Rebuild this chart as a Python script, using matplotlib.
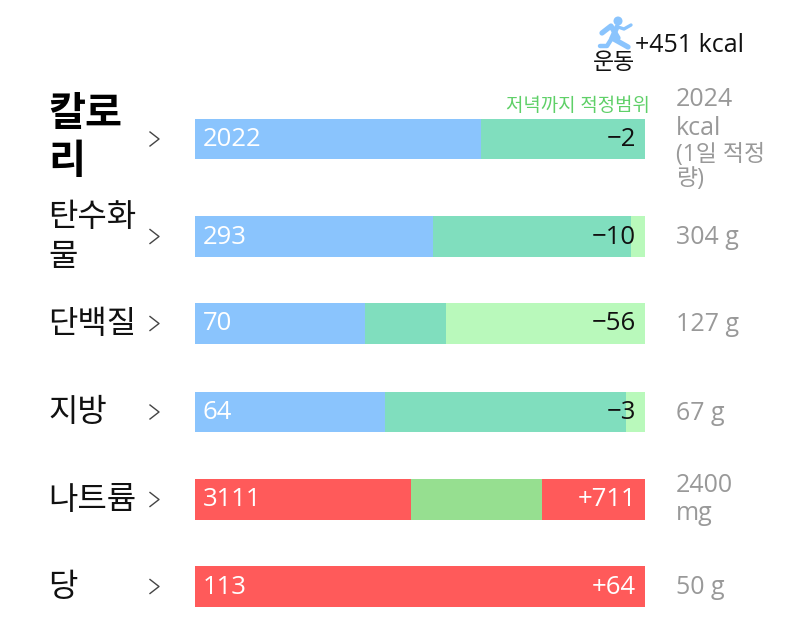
import matplotlib
matplotlib.use("Agg")
import matplotlib.pyplot as plt
from matplotlib.patches import Circle

plt.rcParams["font.family"] = ["Open Sans", "Noto Sans CJK KR", "DejaVu Sans"]

# nutrient rows, top to bottom
names = ["칼로\n리", "탄수화\n물", "단백질", "지방", "나트륨", "당"]
eaten = ["2022", "293", "70", "64", "3111", "113"]
diffs = ["−2", "−10", "−56", "−3", "+711", "+64"]
targets = ["2024\nkcal", "304 g", "127 g", "67 g", "2400\nmg", "50 g"]

# segment ends, percent of the bar length
first_end = [63.7, 53.0, 37.9, 42.3, 48.1, 100]
second_end = [100, 96.9, 55.8, 95.8, 77.1, 100]
third_end = [100, 100, 100, 100, 100, 100]

first_col = ["#8AC4FD", "#8AC4FD", "#8AC4FD", "#8AC4FD", "#FF5A5A", "#FF5A5A"]
second_col = ["#80DEBE", "#80DEBE", "#80DEBE", "#80DEBE", "#96DF90", "#FF5A5A"]
third_col = ["#B9F9BB", "#B9F9BB", "#B9F9BB", "#B9F9BB", "#FF5A5A", "#FF5A5A"]
diff_col = ["#111111", "#111111", "#111111", "#111111", "white", "white"]

W, H = 800, 633
row_mid = [139, 236.5, 323.5, 412, 499.5, 586.5]
bar_h = 40.5
bar_x0, bar_x1 = 195, 644.5

fig = plt.figure(figsize=(W / 100, H / 100), dpi=100, facecolor="white")

# bars live in their own axes, x runs 0-100
ax = fig.add_axes([bar_x0 / W, 0, (bar_x1 - bar_x0) / W, 1])
ax.set_xlim(0, 100)
ax.set_ylim(H, 0)
ax.axis("off")

# full-figure layer in pixels for the labels, above the bars
px = fig.add_axes([0, 0, 1, 1], zorder=5)
px.set_xlim(0, W)
px.set_ylim(H, 0)
px.axis("off")
px.patch.set_alpha(0)

starts_2 = first_end
starts_3 = second_end
ax.barh(row_mid, first_end, height=bar_h, color=first_col)
ax.barh(row_mid, [b - a for a, b in zip(first_end, second_end)], left=starts_2, height=bar_h, color=second_col)
ax.barh(row_mid, [b - a for a, b in zip(second_end, third_end)], left=starts_3, height=bar_h, color=third_col)

for i in range(len(names)):
    y = row_mid[i]
    if i == 0:
        px.text(48, 139, names[i], fontsize=29, fontweight="bold", color="black",
                va="center", ha="left", linespacing=1.25)
    else:
        px.text(48, y + 1, names[i], fontsize=23, color="#111111", va="center", ha="left", linespacing=1.25)
    # chevron
    px.plot([150, 159, 150], [y - 7, y, y + 7], color="#444444", lw=1.0)
    px.text(203, y + 0.5, eaten[i], fontsize=18.5, color="white", va="center", ha="left")
    px.text(636, y + 0.5, diffs[i], fontsize=18.5, color=diff_col[i], va="center", ha="right")
    if i == 0:
        px.text(676, 114, targets[i], fontsize=18, color="#999999", va="center", ha="left", linespacing=1.2)
    elif i == 4:
        px.text(676, y, targets[i], fontsize=18, color="#999999", va="center", ha="left", linespacing=1.2)
    else:
        px.text(676, y + 1, targets[i], fontsize=18, color="#999999", va="center", ha="left")

px.text(676, 167, "(1일 적정\n량)", fontsize=16.5, color="#999999", va="center", ha="left", linespacing=1.0)
px.text(650, 106, "저녁까지 적정범위", fontsize=13.6, color="#5FD068", va="center", ha="right")

# exercise line at the top
px.text(635, 46, "+451 kcal", fontsize=18, color="#111111", va="center", ha="left")
px.text(614, 63, "운동", fontsize=16.5, color="#111111", va="center", ha="center")

runner = "#8AC4FD"
px.add_patch(Circle((618, 21), 4.5, color=runner, lw=0))
px.plot([602, 611, 618], [33, 26, 38], color=runner, lw=3.8, solid_capstyle="round", solid_joinstyle="round")
px.plot([617, 612, 628], [27, 38, 47], color=runner, lw=3.8, solid_capstyle="round", solid_joinstyle="round")
px.plot([612, 607, 600], [38, 46, 46], color=runner, lw=3.2, solid_capstyle="round", solid_joinstyle="round")
px.plot([618, 624, 631], [27, 29, 25], color=runner, lw=2.4, solid_capstyle="round", solid_joinstyle="round")

fig.savefig("out.png", dpi=100, facecolor="white")
